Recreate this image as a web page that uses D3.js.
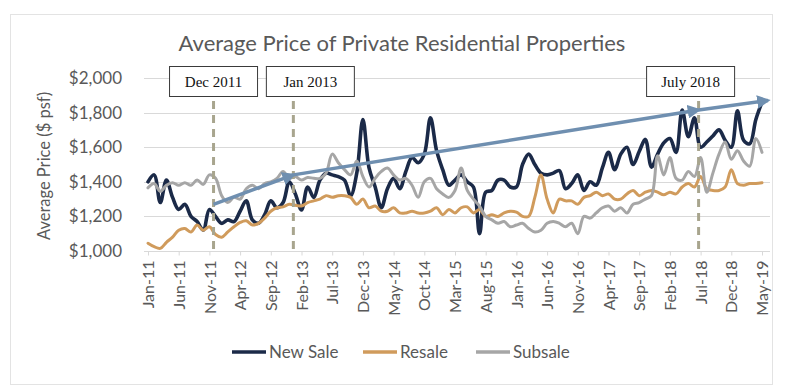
<!DOCTYPE html>
<html><head><meta charset="utf-8">
<script src="https://cdn.jsdelivr.net/npm/d3@7"></script>
<style>body{margin:0;background:#fff}svg{display:block}</style>
</head><body><svg id="c" width="800" height="392"></svg>
<script>
const monthNames=["Jan","Feb","Mar","Apr","May","Jun","Jul","Aug","Sep","Oct","Nov","Dec"];
const categories=[];
for(let yr=11;yr<=19;yr++){for(let m=0;m<12;m++){if(yr===19&&m>4)break;categories.push(monthNames[m]+"-"+yr);}}
const tickLabels=["Jan-11","Jun-11","Nov-11","Apr-12","Sep-12","Feb-13","Jul-13","Dec-13","May-14","Oct-14","Mar-15","Aug-15","Jan-16","Jun-16","Nov-16","Apr-17","Sep-17","Feb-18","Jul-18","Dec-18","May-19"];
const yTicks=[1000,1200,1400,1600,1800,2000];
const newSale=[1400,1440,1280,1410,1310,1240,1270,1200,1170,1121,1240,1200,1160,1180,1170,1230,1290,1180,1160,1210,1290,1250,1280,1400,1330,1237,1370,1310,1410,1450,1440,1430,1410,1320,1450,1760,1480,1370,1250,1360,1420,1360,1460,1540,1510,1560,1770,1580,1470,1380,1410,1440,1400,1370,1100,1340,1350,1410,1410,1370,1370,1500,1560,1500,1450,1440,1450,1465,1360,1390,1440,1350,1400,1380,1480,1570,1470,1560,1600,1500,1575,1645,1485,1560,1625,1650,1570,1815,1660,1770,1600,1630,1665,1700,1640,1600,1810,1640,1620,1760,1860];
const resale=[1045,1025,1015,1050,1080,1120,1130,1110,1150,1120,1140,1095,1080,1110,1140,1165,1175,1150,1160,1190,1230,1250,1255,1270,1265,1260,1280,1290,1300,1320,1310,1320,1320,1310,1270,1300,1250,1260,1230,1230,1250,1220,1220,1230,1220,1220,1230,1250,1210,1240,1220,1250,1255,1220,1240,1200,1210,1200,1220,1230,1225,1200,1200,1310,1440,1300,1220,1300,1290,1290,1270,1310,1320,1340,1320,1330,1300,1300,1330,1350,1320,1340,1350,1340,1325,1340,1330,1370,1390,1370,1430,1360,1350,1350,1370,1470,1390,1380,1390,1390,1395];
const subsale=[1365,1390,1345,1380,1395,1380,1395,1380,1410,1385,1440,1420,1320,1280,1310,1300,1360,1380,1360,1390,1400,1420,1460,1420,1430,1410,1425,1420,1420,1450,1560,1510,1470,1440,1520,1430,1370,1420,1460,1480,1440,1410,1420,1380,1310,1400,1420,1360,1330,1310,1350,1480,1350,1300,1260,1200,1180,1160,1170,1140,1150,1160,1130,1110,1120,1160,1170,1160,1140,1160,1100,1200,1190,1220,1250,1260,1230,1250,1220,1270,1280,1300,1320,1550,1440,1540,1420,1410,1460,1430,1540,1340,1450,1560,1630,1530,1580,1520,1490,1650,1570];
const seriesNames=["New Sale","Resale","Subsale"];
const seriesColors=["#1b2a48","#d09b5c","#a6a6a6"];
const annotationLabels=["Dec 2011","Jan 2013","July 2018"];
const annotationDates=["Dec-11","Jan-13","Jul-18"];
const trendDates=["Dec-11","Jan-13","Jul-18","May-19"];
const trendValues=[1270,1440,1815,1870];

const svg=d3.select("#c");
const x=d3.scalePoint(categories,[148,762]);
const y=d3.scaleLinear([1000,2000],[251,78]);
const font="Lato, 'Open Sans', sans-serif";
const txt="#595959";

svg.append("rect").attr("x",10.5).attr("y",14.5).attr("width",762).attr("height",370).attr("fill","none").attr("stroke","#e3e3e3");

svg.append("text").attr("x",402).attr("y",51).attr("text-anchor","middle").attr("font-family",font).attr("font-size",22).attr("fill",txt).text("Average Price of Private Residential Properties");

// gridlines
svg.append("g").selectAll("line").data(yTicks).join("line")
 .attr("x1",144).attr("x2",770).attr("y1",d=>Math.round(y(d))+0.5).attr("y2",d=>Math.round(y(d))+0.5)
 .attr("stroke","#d9d9d9").attr("stroke-width",1);

// y axis labels
const yAxis=d3.axisLeft(y).tickValues(yTicks).tickSize(0).tickPadding(0).tickFormat(d=>"$"+d3.format(",")(d));
const gy=svg.append("g").attr("transform","translate(122,0)").call(yAxis);
gy.select(".domain").remove();
gy.selectAll("text").attr("font-family",font).attr("font-size",17).attr("fill",txt);

svg.append("text").attr("transform","translate(50,166) rotate(-90)").attr("text-anchor","middle")
 .attr("font-family",font).attr("font-size",16.5).attr("fill",txt).text("Average Price ($ psf)");

// x axis
const xAxis=d3.axisBottom(x).tickValues(tickLabels).tickSize(4).tickPadding(6);
const gx=svg.append("g").attr("transform","translate(0,"+(Math.round(y(1000))+0.5)+")").call(xAxis);
gx.select(".domain").attr("stroke","#d9d9d9").attr("d","M144,0H770");
gx.selectAll(".tick line").attr("stroke","#d9d9d9");
gx.selectAll("text").attr("font-family",font).attr("font-size",16).attr("fill",txt)
 .attr("text-anchor","end").attr("transform","rotate(-90)").attr("x",-9).attr("y",0).attr("dy","0.35em");

// series
const allSeries=[newSale,resale,subsale];
const line=d3.line().x((d,i)=>x(categories[i])).y(d=>y(d)).curve(d3.curveCatmullRom.alpha(0.5));
const widths=[3.6,3,3];
allSeries.forEach((s,k)=>{
 svg.append("path").datum(s).attr("d",line).attr("fill","none").attr("stroke",seriesColors[k])
  .attr("stroke-width",widths[k]).attr("stroke-linejoin","round").attr("stroke-linecap","round");
});

// dashed annotation lines
annotationDates.forEach(d=>{
 svg.append("line").attr("x1",x(d)-2).attr("x2",x(d)-2).attr("y1",101).attr("y2",253)
  .attr("stroke","#a8a58e").attr("stroke-width",3).attr("stroke-dasharray","8,6");
});

// trend arrows
const defs=svg.append("defs");
defs.append("marker").attr("id","ah").attr("viewBox","0 0 10 10").attr("refX",8).attr("refY",5)
 .attr("markerWidth",4).attr("markerHeight",4).attr("orient","auto")
 .append("path").attr("d","M0,0L10,5L0,10z").attr("fill","#6f8fb0");
for(let k=0;k<trendDates.length-1;k++){
 svg.append("line").attr("x1",x(trendDates[k])-2).attr("y1",y(trendValues[k]))
  .attr("x2",x(trendDates[k+1])-2+(k===trendDates.length-2?8:0)).attr("y2",y(trendValues[k+1]))
  .attr("stroke","#6f8fb0").attr("stroke-width",3.4).attr("marker-end","url(#ah)");
}

// annotation boxes
const boxOffsets=[0,17,-8];
annotationLabels.forEach((lab,k)=>{
 const cx=x(annotationDates[k])-2+boxOffsets[k];
 svg.append("rect").attr("x",cx-44).attr("y",66.5).attr("width",88).attr("height",30)
  .attr("fill","#fff").attr("stroke","#3a3a3a").attr("stroke-width",1);
 svg.append("text").attr("x",cx).attr("y",86.5).attr("text-anchor","middle")
  .attr("font-family","'Liberation Serif', 'Times New Roman', serif").attr("font-size",15).attr("fill","#111").text(lab);
});

// legend
const legX=[232,363,476];
seriesNames.forEach((n,k)=>{
 svg.append("line").attr("x1",legX[k]).attr("x2",legX[k]+34).attr("y1",352).attr("y2",352)
  .attr("stroke",seriesColors[k]).attr("stroke-width",3.5);
 svg.append("text").attr("x",legX[k]+37).attr("y",358).attr("font-family",font).attr("font-size",17).attr("fill",txt).text(n);
});
</script></body></html>
